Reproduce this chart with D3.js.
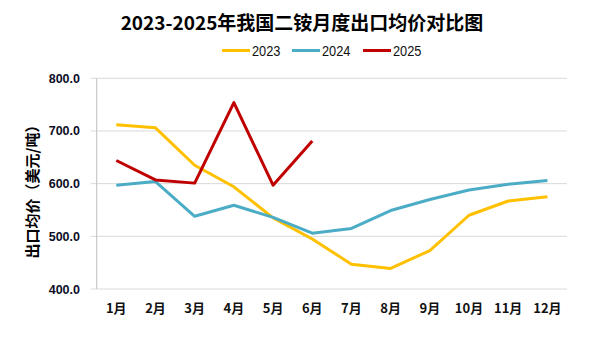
<!DOCTYPE html>
<html><head><meta charset="utf-8">
<script src="https://cdn.jsdelivr.net/npm/d3@7"></script>
<style>body{margin:0;background:#fff}svg{display:block}</style>
</head><body><svg id="c" width="605" height="339"></svg>
<script>
const months = ["1月","2月","3月","4月","5月","6月","7月","8月","9月","10月","11月","12月"];
const s2023 = [712,706,635,594,535,495,447,439,473,540,567,575];
const s2024 = [597,604,538,559,536,506,515,549,570,588,599,606];
const s2025 = [644,607,601,754,597,681];
const yTicks = [400,500,600,700,800];
const seriesNames = ["2023","2024","2025"];
const colors = ["#FFC000","#4BACC6","#C00000"];
const title = "2023-2025年我国二铵月度出口均价对比图";
const yTitle = "出口均价（美元/吨）";

const svg = d3.select("#c");
const L=96.7, R=567, T=78.3, B=289;
const x = d3.scaleBand().domain(months).range([L,R]);
const y = d3.scaleLinear().domain([400,800]).range([B,T]);

// gridlines
svg.append("g").selectAll("line").data(yTicks).join("line")
  .attr("x1",L-6).attr("x2",R).attr("y1",d=>y(d)).attr("y2",d=>y(d))
  .attr("stroke","#d9d9d9").attr("stroke-width",1);
svg.append("line").attr("x1",L).attr("x2",L).attr("y1",T).attr("y2",B)
  .attr("stroke","#bfbfbf").attr("stroke-width",1);

// y labels
svg.append("g").selectAll("text").data(yTicks).join("text")
  .attr("x",80).attr("y",d=>y(d)+4.5).attr("text-anchor","end")
  .attr("font-family","Liberation Sans, Arial, sans-serif").attr("font-weight","bold")
  .attr("font-size",12.5).attr("fill","#0d0d26").text(d=>d.toFixed(1));

// x labels
svg.append("g").selectAll("text").data(months).join("text")
  .attr("x",d=>x(d)+x.bandwidth()/2).attr("y",313).attr("text-anchor","middle")
  .attr("font-family","Noto Sans CJK SC, sans-serif").attr("font-weight","bold")
  .attr("font-size",13).attr("fill","#111").text(d=>d);

// y title
svg.append("text").attr("transform","translate(38,188) rotate(-90)")
  .attr("text-anchor","middle").attr("font-family","Noto Sans CJK SC, sans-serif")
  .attr("font-weight","bold").attr("font-size",15).attr("fill","#000").text(yTitle);

// lines
const data=[s2023,s2024,s2025];
const line=d3.line().x((d,i)=>x(months[i])+x.bandwidth()/2).y(d=>y(d));
data.forEach((s,k)=>{
  svg.append("path").datum(s).attr("d",line).attr("fill","none")
    .attr("stroke",colors[k]).attr("stroke-width",3).attr("stroke-linejoin","round");
});

// title
svg.append("text").attr("x",302).attr("y",30).attr("text-anchor","middle")
  .attr("font-family","Noto Sans CJK SC, sans-serif").attr("font-weight","bold")
  .attr("font-size",19).attr("fill","#000").text(title);

// legend
const lx=[222,292,363];
seriesNames.forEach((n,k)=>{
  svg.append("line").attr("x1",lx[k]).attr("x2",lx[k]+28).attr("y1",50.5).attr("y2",50.5)
    .attr("stroke",colors[k]).attr("stroke-width",3);
  svg.append("text").attr("x",lx[k]+30).attr("y",55.7)
    .attr("font-family","Liberation Sans, Arial, sans-serif")
    .attr("textLength",28.5).attr("lengthAdjust","spacingAndGlyphs")
    .attr("font-size",14).attr("fill","#111").text(n);
});
</script></body></html>
